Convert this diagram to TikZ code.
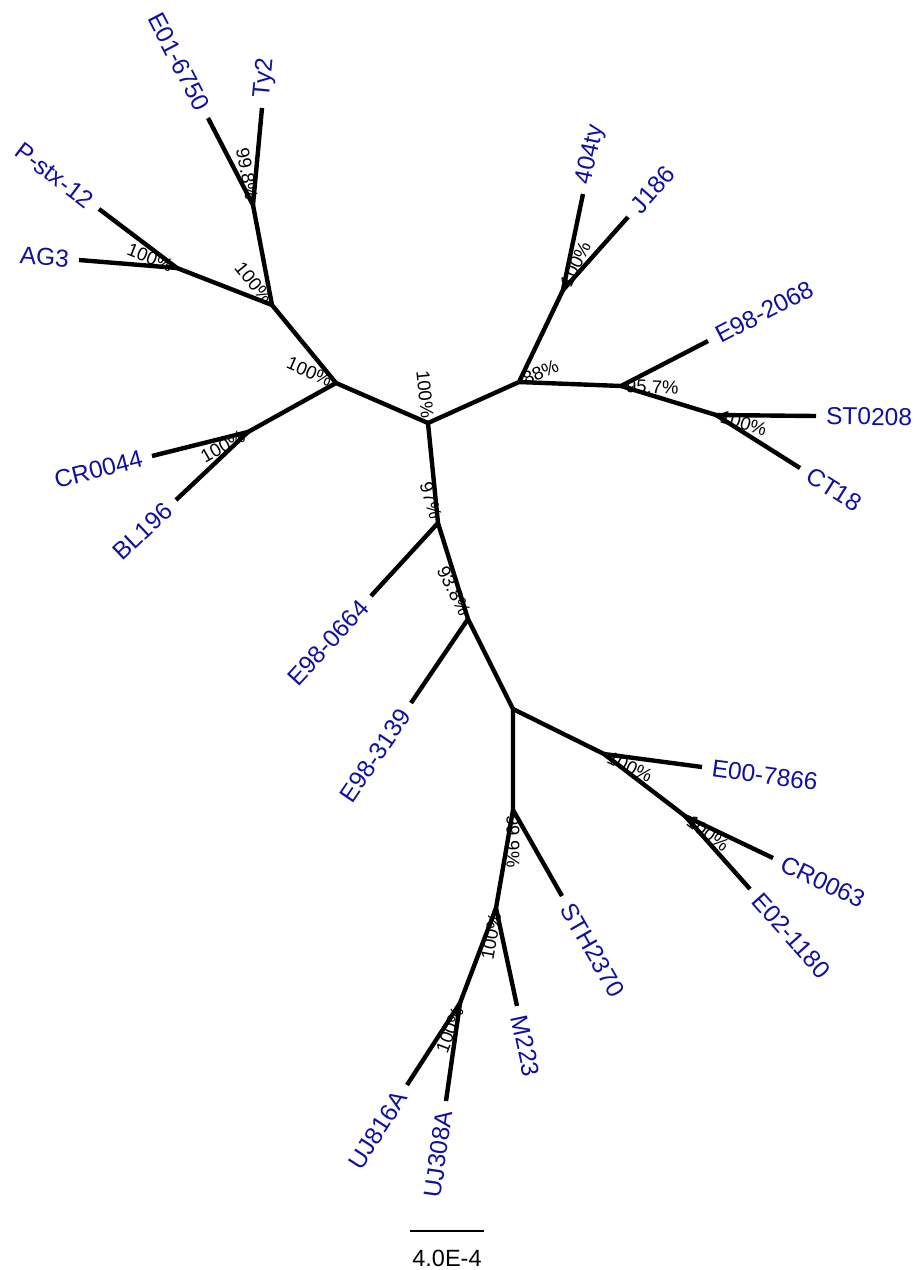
\documentclass[tikz,border=0pt]{standalone}
\usepackage{fontspec}
\setmainfont{Liberation Sans}
\definecolor{leafblue}{RGB}{16,16,160}
\tikzset{
  branch/.style={line width=4.4pt, line cap=butt, line join=miter, black},
  leaf/.style={text=leafblue, font=\fontsize{24.5}{28}\selectfont, inner xsep=10pt, inner ysep=0pt},
  boot/.style={text=black, font=\fontsize{18.5}{22}\selectfont, inner xsep=5pt, inner ysep=0pt},
  scalebar/.style={line width=2.2pt, black},
}
\begin{document}
\begin{tikzpicture}[x=1pt, y=-1pt]
\useasboundingbox (0,0) rectangle (916,1270);
% internal nodes
\coordinate (R) at (428,423);
\coordinate (A) at (336,383);
\coordinate (B) at (272,305);
\coordinate (C) at (177,268);
\coordinate (D) at (253,205);
\coordinate (E) at (248,432);
\coordinate (F) at (519,382);
\coordinate (G) at (563,290);
\coordinate (H) at (621,386);
\coordinate (I) at (716,415);
\coordinate (J) at (438,523);
\coordinate (K) at (468,619);
\coordinate (L) at (513,709);
\coordinate (M) at (604,754);
\coordinate (N) at (685,816);
\coordinate (O) at (513,810);
\coordinate (P) at (496,908);
\coordinate (Q) at (460,1003);
% leaf ends
\coordinate (lE01) at (208,118);
\coordinate (lTy2) at (262,108);
\coordinate (lPstx) at (99,209);
\coordinate (lAG3) at (79,260);
\coordinate (lCR0044) at (152,456);
\coordinate (lBL196) at (176,500);
\coordinate (lE980664) at (371,596);
\coordinate (lE983139) at (411,703);
\coordinate (l404ty) at (583,194);
\coordinate (lJ186) at (628,217);
\coordinate (lE982068) at (708,341);
\coordinate (lST0208) at (816,416);
\coordinate (lCT18) at (800,468);
\coordinate (lE007866) at (702,767);
\coordinate (lCR0063) at (773,858);
\coordinate (lE021180) at (750,889);
\coordinate (lSTH2370) at (562,896);
\coordinate (lM223) at (517,1006);
\coordinate (lUJ308A) at (446,1101);
\coordinate (lUJ816A) at (407,1085);
% internal branches
\draw[branch] (L) -- (K) -- (J) -- (R);
\draw[branch] (R) -- (A) -- (B) -- (C);
\draw[branch] (B) -- (D);
\draw[branch] (A) -- (E);
\draw[branch] (R) -- (F) -- (G);
\draw[branch] (F) -- (H) -- (I);
\draw[branch] (L) -- (M) -- (N);
\draw[branch] (L) -- (O) -- (P) -- (Q);
% leaf branches
\draw[branch] (lE01) -- (D) -- (lTy2);
\draw[branch] (lPstx) -- (C) -- (lAG3);
\draw[branch] (lCR0044) -- (E) -- (lBL196);
\draw[branch] (J) -- (lE980664);
\draw[branch] (K) -- (lE983139);
\draw[branch] (l404ty) -- (G) -- (lJ186);
\draw[branch] (H) -- (lE982068);
\draw[branch] (lST0208) -- (I) -- (lCT18);
\draw[branch] (M) -- (lE007866);
\draw[branch] (lCR0063) -- (N) -- (lE021180);
\draw[branch] (O) -- (lSTH2370);
\draw[branch] (P) -- (lM223);
\draw[branch] (lUJ308A) -- (Q) -- (lUJ816A);
% leaf labels
\node[leaf, rotate=-62.65, anchor=east] (tE01) at (lE01) {E01-6750};
\node[leaf, rotate=84.7, anchor=west] (tTy2) at (lTy2) {Ty2};
\node[leaf, rotate=-37.1, anchor=east] (tPstx) at (lPstx) {P-stx-12};
\node[leaf, rotate=-4.7, anchor=east] (tAG3) at (lAG3) {AG3};
\node[leaf, rotate=14.0, anchor=east] (tCR0044) at (lCR0044) {CR0044};
\node[leaf, rotate=43.4, anchor=east] (tBL196) at (lBL196) {BL196};
\node[leaf, rotate=47.5, anchor=east] (tE980664) at (lE980664) {E98-0664};
\node[leaf, rotate=55.8, anchor=east] (tE983139) at (lE983139) {E98-3139};
\node[leaf, rotate=78.2, anchor=west] (t404ty) at (l404ty) {404ty};
\node[leaf, rotate=48.3, anchor=west] (tJ186) at (lJ186) {J186};
\node[leaf, rotate=27.4, anchor=west] (tE982068) at (lE982068) {E98-2068};
\node[leaf, rotate=-0.6, anchor=west] (tST0208) at (lST0208) {ST0208};
\node[leaf, rotate=-32.2, anchor=west] (tCT18) at (lCT18) {CT18};
\node[leaf, rotate=-7.6, anchor=west] (tE007866) at (lE007866) {E00-7866};
\node[leaf, rotate=-25.5, anchor=west] (tCR0063) at (lCR0063) {CR0063};
\node[leaf, rotate=-48.3, anchor=west] (tE021180) at (lE021180) {E02-1180};
\node[leaf, rotate=-60.3, anchor=west] (tSTH2370) at (lSTH2370) {STH2370};
\node[leaf, rotate=-77.9, anchor=west] (tM223) at (lM223) {M223};
\node[leaf, rotate=81.9, anchor=east] (tUJ308A) at (lUJ308A) {UJ308A};
\node[leaf, rotate=57.1, anchor=east] (tUJ816A) at (lUJ816A) {UJ816A};
% bootstrap labels
\node[boot, rotate=-84.3, anchor=east] (bR) at (R) {100\%};
\node[boot, rotate=-23.5, anchor=east] (bA) at (A) {100\%};
\node[boot, rotate=-50.6, anchor=east] (bB) at (B) {100\%};
\node[boot, rotate=-21.3, anchor=east] (bC) at (C) {100\%};
\node[boot, rotate=-79.2, anchor=east] (bD) at (D) {99.8\%};
\node[boot, rotate=29.1, anchor=east] (bE) at (E) {100\%};
\node[boot, rotate=24.3, anchor=west] (bF) at (F) {88\%};
\node[boot, rotate=64.4, anchor=west] (bG) at (G) {100\%};
\node[boot, rotate=-2.2, anchor=west] (bH) at (H) {95.7\%};
\node[boot, rotate=-17.0, anchor=west] (bI) at (I) {100\%};
\node[boot, rotate=-72.6, anchor=east] (bJ) at (J) {97\%};
\node[boot, rotate=-63.4, anchor=east] (bK) at (K) {93.8\%};
\node[boot, rotate=-26.3, anchor=west] (bM) at (M) {100\%};
\node[boot, rotate=-37.4, anchor=west] (bN) at (N) {100\%};
\node[boot, rotate=-90, anchor=west] (bO) at (O) {99.9\%};
\node[boot, rotate=80.2, anchor=east] (bP) at (P) {100\%};
\node[boot, rotate=69.2, anchor=east] (bQ) at (Q) {100\%};
% scale bar
\coordinate (s1) at (410,1231);
\coordinate (s2) at (484,1231);
\draw[scalebar] (s1) -- (s2);
\node[font=\fontsize{23.5}{27}\selectfont, inner sep=0pt] (stext) at (447,1258) {4.0E-4};
\end{tikzpicture}
\end{document}
